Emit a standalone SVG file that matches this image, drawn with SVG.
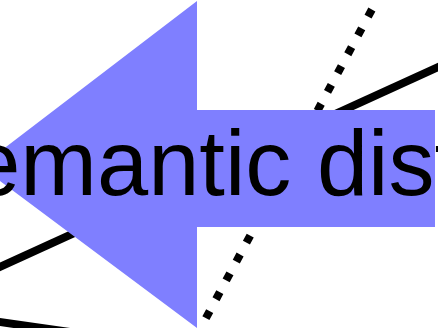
<svg xmlns="http://www.w3.org/2000/svg" width="438" height="328" viewBox="0 0 438 328">
  <style>
    .solid { stroke: #000; stroke-width: 8; fill: none; }
    .dotted { stroke: #000; stroke-width: 8; fill: none; stroke-dasharray: 8 13.4; }
    .arrow { fill: #7f7fff; }
    .label { font-family: "Liberation Sans", Arial, sans-serif; font-size: 92px; fill: #000; }
  </style>
  <rect x="0" y="0" width="438" height="328" fill="#fff"/>
  <g id="connectors">
    <line class="solid" x1="-20" y1="276" x2="460" y2="57"/>
    <line class="solid" x1="-10" y1="320.6" x2="100" y2="336.3"/>
    <line class="dotted" x1="382" y1="-9.35" x2="196.8" y2="335"/>
  </g>
  <g id="arrow-node">
    <polygon class="arrow" points="-19.5,166.5 197,1 197,110 435,110 435,227 197,227 197,328"/>
    <text class="label" x="-76.8" y="195">semantic distance</text>
  </g>
</svg>
